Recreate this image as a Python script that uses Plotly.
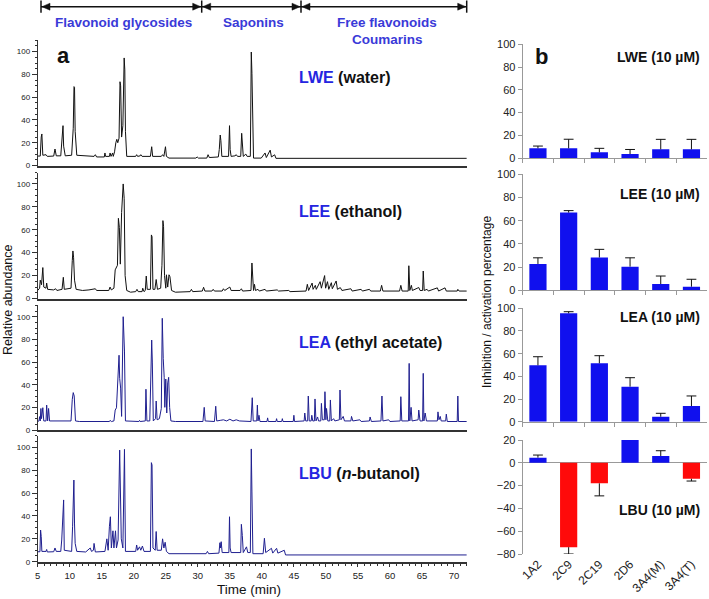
import plotly.graph_objects as go

W, H = 709, 599
FONT = "Liberation Sans, Arial, sans-serif"

# ---------------- chromatogram data (time in min, relative abundance) ----------------
lwe_time = [5.0, 5.4, 5.55, 5.65, 5.8, 6.3, 6.5, 7.5, 7.7, 7.9, 8.6, 8.75, 8.95, 9.05, 9.3,
            10.3, 10.55, 10.67, 10.75, 10.85, 11.1, 13.8, 14.0, 14.2, 15.4, 15.5, 15.6, 16.2,
            16.3, 16.45, 16.7, 16.8, 17.0, 17.2, 17.35, 17.5, 17.7, 17.85, 17.95, 18.1, 18.3,
            18.5, 18.6, 18.7, 18.9, 20.3, 20.45, 20.6, 21.0, 21.1, 21.3, 22.6, 22.8, 22.95,
            24.3, 24.5, 24.7, 24.95, 25.1, 25.5, 29.7, 29.9, 30.1, 31.4, 31.6, 31.8, 33.2,
            33.35, 33.5, 33.6, 33.75, 34.8, 34.95, 35.05, 35.2, 35.8, 36.0, 36.2, 36.7, 36.85,
            36.95, 37.1, 37.5, 37.7, 38.2, 38.35, 38.45, 38.55, 38.7, 39.9, 40.1, 40.5, 40.7,
            41.3, 41.5, 42.0, 42.2, 72.0]
lwe_abund = [8.3, 8.3, 25, 27.7, 9, 9.5, 8, 8.3, 14.5, 8.5, 8.5, 18, 35, 17, 8.5,
             9, 32.7, 69.3, 68.6, 30, 9, 8, 9.5, 7.5, 7.5, 11, 8, 8,
             11, 8, 11, 8, 12, 20, 23, 20, 24, 73.6, 70, 25, 35,
             94.5, 84, 30, 8, 8, 9.5, 8, 8.5, 9.5, 8, 8, 16.5, 8,
             8, 9.5, 8, 16.5, 8, 6.5, 6.5, 7.5, 6.5, 6.5, 9.5, 7, 7.5,
             14, 26.8, 22, 8, 8, 35, 14, 8, 8.5, 9.5, 8, 8, 28.3,
             18, 8, 10, 8, 8, 99.7, 81, 55, 6.5, 6.5, 8, 11, 7,
             13.5, 7.5, 9.4, 6.3, 6.3]

lee_time = [5.0, 5.3, 5.4, 5.6, 5.8, 5.95, 6.3, 6.4, 6.55, 7.5, 7.8, 8.0, 8.8, 9.0, 9.15,
            10.2, 10.4, 10.5, 10.6, 10.75, 11.0, 12.0, 13.0, 14.0, 14.2, 16.1, 16.3, 16.5,
            16.9, 17.1, 17.45, 17.6, 17.75, 17.9, 18.1, 18.35, 18.5, 18.65, 18.9, 19.5, 20.3,
            20.5, 20.7, 21.3, 21.4, 21.6, 21.8, 21.95, 22.1, 22.6, 22.75, 22.85, 23.0, 23.3,
            23.5, 23.7, 24.2, 24.4, 24.55, 24.65, 24.8, 25.0, 25.1, 25.3, 25.5, 25.65, 25.9,
            26.5, 28.8, 29.0, 29.2, 30.7, 30.9, 31.1, 32.2, 32.4, 32.6, 33.8, 34.0, 34.2,
            35.0, 35.2, 36.6, 36.8, 37.0, 38.3, 38.45, 38.55, 38.7, 38.85, 39.0, 39.4, 39.6,
            40.5, 40.7, 42.4, 42.6, 44.2, 44.4, 46.9, 47.1, 47.3, 47.85, 48.0, 48.35, 48.5,
            49.1, 49.3, 49.8, 49.95, 50.25, 50.45, 50.85, 51.0, 51.6, 51.8, 52.25, 52.5, 53.9,
            54.1, 55.5, 55.7, 56.8, 57.0, 58.5, 58.7, 58.9, 61.5, 61.7, 61.9, 62.85, 62.95,
            63.1, 63.35, 63.5, 64.5, 64.7, 65.1, 65.2, 65.35, 65.8, 66.0, 67.4, 67.6, 68.6,
            68.8, 70.5, 70.6, 70.8, 72.0]
lee_abund = [7, 9, 16, 12, 27, 10, 9, 13.5, 8, 7.5, 8.5, 7, 8, 18.5, 8,
             9, 33, 41.5, 36, 16, 8, 7, 7.5, 8.5, 7, 7, 10, 7.5,
             9, 25, 29, 70, 62, 30, 75, 100, 87.5, 20, 7, 5.5, 6,
             8, 6, 6, 9, 6, 7, 19.6, 8, 8, 55.5, 54, 8, 8,
             16.6, 8, 9, 29, 68, 63, 20, 9, 20.7, 10, 20.7, 19, 7,
             5.5, 6, 8, 6, 6.5, 9.8, 6.5, 6.5, 8, 6.5, 6.5, 8.5, 7,
             10, 7, 7, 8.5, 6.5, 7, 31, 21, 7, 12.4, 7, 8, 6.5,
             8, 6.5, 7.5, 6.5, 7, 6, 6.5, 12.4, 7, 13.5, 8, 11.5, 8,
             14.7, 9, 20, 9, 14.7, 8, 13.8, 8.5, 15.3, 8, 9.5, 7, 8.5,
             6.5, 8, 6.5, 8, 6.5, 6.5, 11.5, 6.5, 6.5, 11.5, 6.5, 6.5, 28.6,
             7, 11.5, 7, 9.6, 7, 7, 24, 7, 8, 6.5, 9.3, 6.5, 9.3,
             6.5, 6.5, 8, 6.5, 6.5]

lea_time = [5.0, 5.2, 5.3, 5.4, 5.5, 5.6, 5.8, 5.95, 6.3, 6.4, 6.55, 6.7, 6.85, 7.5, 10.2,
            10.4, 10.55, 10.7, 10.9, 11.5, 16.2, 16.3, 16.5, 16.9, 17.1, 17.3, 17.55, 17.7,
            17.8, 17.95, 18.1, 18.35, 18.55, 18.7, 20.8, 20.9, 21.0, 21.8, 21.9, 22.05, 22.5,
            22.6, 22.8, 22.9, 23.05, 23.4, 23.5, 23.65, 24.0, 24.3, 24.45, 24.6, 24.75, 24.85,
            25.0, 25.15, 25.3, 25.45, 25.6, 25.8, 26.5, 30.8, 31.0, 31.15, 32.6, 32.8, 32.95,
            33.5, 34.0, 34.5, 35.0, 35.5, 36.0, 36.5, 38.3, 38.5, 38.65, 39.2, 39.3, 39.4,
            39.55, 39.7, 40.8, 40.9, 41.0, 42.2, 42.3, 42.4, 43.1, 43.2, 43.3, 44.9, 45.0,
            45.1, 46.6, 46.7, 46.85, 47.15, 47.25, 47.4, 47.7, 47.8, 47.95, 48.2, 48.3, 48.45,
            48.7, 48.85, 49.2, 49.3, 49.45, 49.75, 49.85, 50.0, 50.1, 50.3, 50.6, 50.7, 50.85,
            51.2, 51.4, 52.1, 52.2, 52.35, 52.7, 52.9, 53.9, 54.0, 54.2, 55.3, 55.5, 56.8,
            56.9, 57.1, 58.6, 58.75, 58.9, 59.8, 60.0, 61.6, 61.7, 61.85, 62.9, 63.0, 63.1,
            63.3, 63.45, 64.4, 64.5, 64.7, 65.1, 65.2, 65.3, 65.5, 65.7, 67.4, 67.5, 67.65,
            67.85, 68.0, 68.7, 68.8, 68.95, 70.5, 70.6, 70.7, 72.0]
lea_abund = [7.5, 8, 11.8, 8, 19, 10, 19.7, 8, 8, 22, 8, 19, 8, 8, 8,
             27, 33, 30, 8, 7.5, 7.5, 8.5, 7.5, 8, 17.6, 19.6, 48.5, 66,
             45.6, 37, 12, 100, 69.7, 8, 7.5, 8.5, 7.5, 8, 36, 8, 8,
             32, 79.4, 60, 8, 10, 25.6, 9, 10, 19, 98.6, 63.3, 46.5, 20,
             45, 15, 41.6, 46.5, 20, 8, 7.5, 7.5, 20, 8, 7.5, 21, 8,
             8.5, 9, 8, 9.5, 8, 9, 8, 7.5, 28.5, 8, 8, 22, 8,
             13, 7.5, 7.5, 10.7, 7.5, 7.5, 10, 7.5, 7.5, 10, 7.5, 7.5, 13,
             7.5, 8, 15, 8, 8, 30, 8, 8, 13, 8, 8, 27.4, 8,
             11.5, 8, 8, 23.5, 9, 9, 33.8, 9, 19, 8, 8, 26.5, 8,
             10, 8, 9, 35.3, 9, 12, 8, 8, 12, 8, 9, 7.5, 8,
             11.5, 7.5, 8, 30, 8, 9, 7.5, 8, 29.4, 8, 8, 58.8, 8,
             20, 8, 9, 17.6, 8, 8, 50, 8, 15, 8, 8, 16, 9,
             12, 8, 8, 14, 7.5, 7.5, 30, 7.5, 7.5]

lbu_time = [5.0, 5.35, 5.45, 5.55, 5.65, 6.3, 6.4, 6.5, 7.5, 7.7, 7.9, 8.6, 8.75, 8.95, 9.05,
            9.15, 10.3, 10.45, 10.65, 10.75, 10.85, 11.1, 12.5, 13.2, 13.4, 13.7, 13.8, 14.0,
            15.5, 15.8, 16.0, 16.2, 16.35, 16.5, 16.75, 16.9, 17.15, 17.3, 17.55, 17.8, 17.9,
            18.05, 18.3, 18.45, 18.55, 18.7, 20.3, 20.45, 20.6, 20.9, 21.1, 21.35, 21.6, 22.6,
            22.75, 22.85, 23.0, 23.35, 23.5, 23.65, 24.3, 24.5, 24.7, 24.9, 25.1, 25.5, 31.3,
            31.5, 31.7, 33.3, 33.45, 33.55, 33.65, 33.8, 34.85, 34.95, 35.05, 35.2, 36.7, 36.8,
            36.95, 37.1, 37.6, 37.8, 38.2, 38.35, 38.45, 38.6, 40.2, 40.4, 40.6, 41.5, 41.7,
            42.3, 42.5, 43.5, 43.7, 72.0]
lbu_abund = [8.7, 8.7, 27.7, 22, 9, 9, 10.7, 8.5, 8.7, 12, 9, 9, 19, 52.5, 54,
             10, 9, 31, 71.4, 33, 16, 9, 8.5, 12, 9, 10, 16, 8.5,
             9, 20, 10, 31, 39.3, 12, 27, 12, 27, 12, 19, 97.6, 57,
             20, 12, 98.2, 98.2, 9, 9, 14.6, 10, 13, 10, 13.7, 9, 9,
             86.6, 84.5, 12, 10, 26.4, 10, 10, 20, 12, 17, 9, 7, 7,
             9, 7, 7.5, 16.6, 12, 17.5, 8, 8, 39.3, 12, 8, 8, 32.7,
             23, 8, 13, 8, 8, 98.6, 61, 7, 7, 20.5, 8, 11.7, 7.5,
             11.7, 7.5, 10, 5.9, 5.9]

x_ticks_min = [5, 10, 15, 20, 25, 30, 35, 40, 45, 50, 55, 60, 65, 70]
y_ticks_abund = [0, 20, 40, 60, 80, 100]

# ---------------- CYP inhibition data ----------------
cyp = ["1A2", "2C9", "2C19", "2D6", "3A4(M)", "3A4(T)"]
lwe_mean = [8.5, 8.5, 5.0, 3.5, 7.6, 7.6]
lwe_err = [2.0, 8.0, 3.5, 4.0, 8.8, 8.8]
lee_mean = [22.7, 67.0, 28.3, 20.4, 5.4, 3.1]
lee_err = [5.3, 1.7, 7.0, 7.6, 6.9, 6.4]
lea_mean = [49.7, 95.6, 51.5, 30.9, 4.4, 13.8]
lea_err = [7.6, 1.4, 6.7, 7.9, 3.0, 8.9]
lbu_mean = [4.5, -74.0, -18.0, 20.0, 6.0, -14.0]
lbu_err = [2.3, 6.0, 11.0, 0.5, 4.6, 2.0]

# ---------------- helpers ----------------
def px(x):
    return x / W

def py(y):
    return 1 - y / H

fig = go.Figure()

# chromatograms
chrom = [
    (lwe_time, lwe_abund, "#111111", (40.3, 165.5)),
    (lee_time, lee_abund, "#111111", (172.5, 298.5)),
    (lea_time, lea_abund, "#1f1f8f", (305.4, 430.0)),
    (lbu_time, lbu_abund, "#1f1f8f", (435.9, 561.7)),
]
layout_axes = {}
for i, (t, a, col, (ytop, ybot)) in enumerate(chrom):
    n = i + 1
    xa = "x" if n == 1 else f"x{n}"
    ya = "y" if n == 1 else f"y{n}"
    fig.add_trace(go.Scatter(x=t, y=a, mode="lines", line=dict(color=col, width=1),
                             xaxis=xa, yaxis=ya, showlegend=False, hoverinfo="skip"))
    last = (n == 4)
    xd = dict(
        domain=[px(37.7), px(466.8)], range=[5, 72], anchor=ya, automargin=False,
        showline=True, linecolor="#333", linewidth=2 if not last else 1.5,
        showgrid=False, zeroline=False,
        tickvals=x_ticks_min if last else [], showticklabels=last,
        ticks="outside" if last else "", ticklen=4, tickcolor="#333", tickwidth=1,
        tickfont=dict(family=FONT, size=9.5, color="#222"),
    )
    if last:
        xd["minor"] = dict(dtick=1, tick0=5, ticks="outside", ticklen=2.5, tickcolor="#333")
    layout_axes["xaxis" if n == 1 else f"xaxis{n}"] = xd
    layout_axes["yaxis" if n == 1 else f"yaxis{n}"] = dict(
        domain=[py(ybot), py(ytop)], range=[0, 110], anchor=xa, automargin=False,
        showline=True, linecolor="#333", linewidth=1, showgrid=False, zeroline=False,
        tickvals=y_ticks_abund, ticks="outside", ticklen=5, tickcolor="#333",
        tickfont=dict(family=FONT, size=8, color="#222"),
        minor=dict(dtick=5, tick0=0, ticks="outside", ticklen=2, tickcolor="#333"),
    )

# bar panels
bars = [
    (lwe_mean, lwe_err, (44.3, 158.0), [0, 100], "LWE (10 µM)", 56.7),
    (lee_mean, lee_err, (174.3, 290.3), [0, 100], "LEE (10 µM)", 194.3),
    (lea_mean, lea_err, (308.3, 421.7), [0, 100], "LEA (10 µM)", 317.3),
    (lbu_mean, lbu_err, (440.0, 554.0), [-80, 20], "LBU (10 µM)", 510.0),
]
annotations = []

def note(text, x, y, size, color="#111", xanchor="center", angle=0):
    annotations.append(dict(text=text, x=px(x), y=py(y), xref="paper", yref="paper",
                            xanchor=xanchor, yanchor="middle", textangle=angle,
                            showarrow=False, font=dict(family=FONT, size=size, color=color)))

for j, (m, e, (ytop, ybot), yr, lab, laby) in enumerate(bars):
    n = j + 5
    xa, ya = f"x{n}", f"y{n}"
    colors = ["#1010ee" if v >= 0 else "#ff0a0a" for v in m]
    fig.add_trace(go.Bar(x=cyp, y=m, marker=dict(color=colors, line=dict(width=0)), width=0.56,
                         xaxis=xa, yaxis=ya, showlegend=False, hoverinfo="skip"))
    tips = [v + (ee if v >= 0 else -ee) for v, ee in zip(m, e)]
    sx, sy = [], []
    for c, v, tp in zip(cyp, m, tips):
        sx += [c, c, None]
        sy += [v, tp, None]
    fig.add_trace(go.Scatter(x=sx, y=sy, mode="lines", line=dict(color="#111", width=1),
                             xaxis=xa, yaxis=ya, showlegend=False, hoverinfo="skip"))
    fig.add_trace(go.Scatter(x=cyp, y=tips, mode="markers",
                             marker=dict(symbol="line-ew", size=7, line=dict(color="#111", width=1)),
                             xaxis=xa, yaxis=ya, showlegend=False, hoverinfo="skip"))
    last = (j == 3)
    layout_axes[f"xaxis{n}"] = dict(
        domain=[px(522.6), px(706.8)], anchor=ya, type="category", automargin=False,
        categoryorder="array", categoryarray=cyp, range=[-0.5, 5.5],
        showline=not last, linecolor="#999", linewidth=1, showgrid=False, zeroline=False,
        showticklabels=last, tickangle=-45,
        ticks="" if last else "outside", tickson="boundaries", ticklen=4, tickcolor="#999",
        tickfont=dict(family=FONT, size=12, color="#222"),
    )
    layout_axes[f"yaxis{n}"] = dict(
        domain=[py(ybot), py(ytop)], anchor=xa, range=yr, dtick=20, automargin=False,
        showline=True, linecolor="#999", linewidth=1, showgrid=False,
        zeroline=last, zerolinecolor="#999", zerolinewidth=1,
        ticks="outside", ticklen=4, tickcolor="#999",
        tickfont=dict(family=FONT, size=11, color="#222"),
    )
    note(f"<b>{lab}</b>", 702, laby, 14, xanchor="right")

# chromatogram labels
BLUE = "#2525e0"
chrom_labels = [
    ("LWE", " (water)", 77.3),
    ("LEE", " (ethanol)", 212.0),
    ("LEA", " (ethyl acetate)", 342.7),
    ("LBU", " (<i>n</i>-butanol)", 474.0),
]
for code, rest, yy in chrom_labels:
    note(f"<b><span style='color:{BLUE}'>{code}</span>{rest}</b>", 297.0, yy, 16, xanchor="left")

# panel letters
note("<b>a</b>", 63, 56, 22)
note("<b>b</b>", 541, 57, 22)

# axis titles
note("Relative abundance", 8, 300, 12.5, angle=-90)
note("Time (min)", 249, 589.5, 13.5)
note("Inhibition / activation percentage", 487, 302, 12, angle=-90)

# section labels
SEC = "#3a3ad8"
for txt, xx, yy in [("Flavonoid glycosides", 123.7, 22.7), ("Saponins", 253.8, 22.7),
                    ("Free flavonoids", 386.7, 22.7), ("Coumarins", 387.0, 40.0)]:
    note(f"<b>{txt}</b>", xx, yy, 13.5, color=SEC)

# bracket arrows
shapes = []
yb = 6.7
bounds = [41.0, 201.7, 301.0, 466.7]
shapes.append(dict(type="line", xref="paper", yref="paper", x0=px(bounds[0]), x1=px(bounds[-1]),
                   y0=py(yb), y1=py(yb), line=dict(color="#111", width=1.5)))
for b in bounds:
    shapes.append(dict(type="line", xref="paper", yref="paper", x0=px(b), x1=px(b),
                       y0=py(0.5), y1=py(12.7), line=dict(color="#111", width=1.5)))
for a0, a1 in zip(bounds[:-1], bounds[1:]):
    for tip, d in [(a0 + 1, 1), (a1 - 1, -1)]:
        p = (f"M {px(tip)},{py(yb)} L {px(tip + d * 8)},{py(yb - 3.5)} "
             f"L {px(tip + d * 8)},{py(yb + 3.5)} Z")
        shapes.append(dict(type="path", xref="paper", yref="paper", path=p,
                           fillcolor="#111", line=dict(color="#111", width=0.5)))

fig.update_layout(
    template="none",
    width=W, height=H, margin=dict(l=0, r=0, t=0, b=0, pad=0, autoexpand=False),
    paper_bgcolor="white", plot_bgcolor="white",
    showlegend=False, bargap=0.44,
    annotations=annotations, shapes=shapes,
    font=dict(family=FONT),
    **layout_axes,
)

fig.write_html("out.html", config={"displayModeBar": False},
               post_script="document.body.style.margin='0';document.body.style.overflow='hidden';")
